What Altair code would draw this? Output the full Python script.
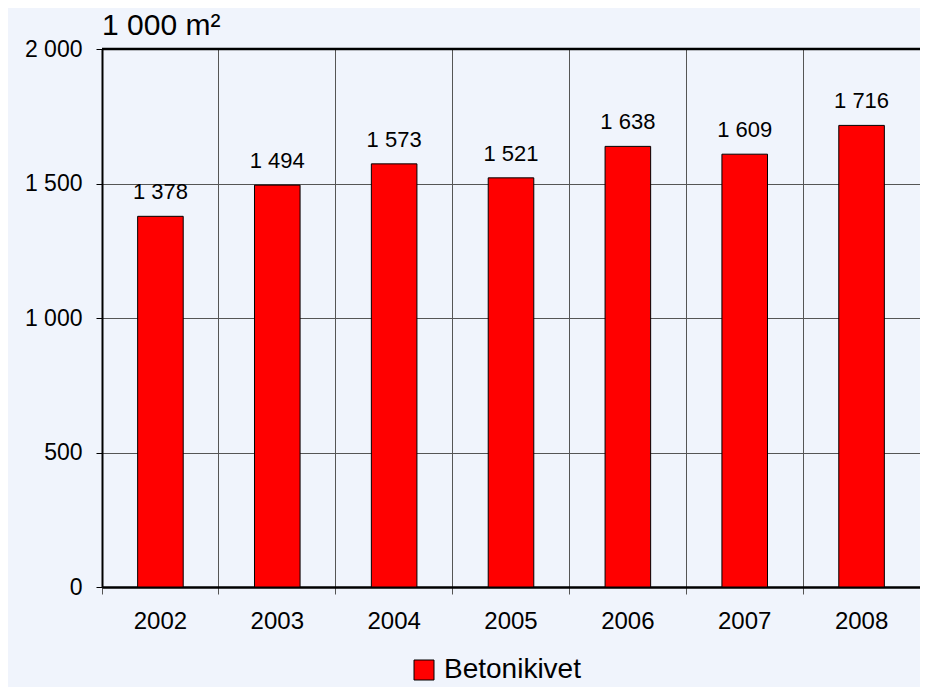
import altair as alt
import pandas as pd

years = ["2002", "2003", "2004", "2005", "2006", "2007", "2008"]
values = [1378, 1494, 1573, 1521, 1638, 1609, 1716]
series_name = "Betonikivet"
y_ticks = [0, 500, 1000, 1500, 2000]
unit_title = "1 000 m²"

df = pd.DataFrame({"year": years, "value": values, "series": [series_name] * len(years)})

FONT = "Liberation Sans"
fmt_expr = "replace(format(datum.value, ','), ',', ' ')"

x_enc = alt.X(
    "year:N",
    sort=years,
    title=None,
    scale=alt.Scale(paddingInner=0, paddingOuter=0),
    axis=alt.Axis(
        bandPosition=0,
        grid=True,
        gridColor="#555555",
        gridWidth=1,
        domainColor="black",
        domainWidth=2.5,
        ticks=True,
        tickColor="#555555",
        tickSize=7,
        tickWidth=1,
        labelFontSize=24,
        labelFont=FONT,
        labelColor="black",
        labelPadding=15,
        labelAngle=0,
    ),
)
y_enc = alt.Y(
    "value:Q",
    title=None,
    scale=alt.Scale(domain=[0, 2000], nice=False),
    axis=alt.Axis(
        values=y_ticks,
        labelExpr=fmt_expr,
        grid=True,
        gridColor="#555555",
        gridWidth=1,
        domainColor="black",
        domainWidth=2,
        tickColor="black",
        tickSize=6,
        tickWidth=1,
        labelFontSize=23,
        labelFont=FONT,
        labelColor="black",
        labelPadding=14,
    ),
)

bars = alt.Chart(df).mark_bar(
    width=alt.RelativeBandSize(0.39), stroke="black", strokeWidth=1
).encode(
    x=x_enc,
    y=y_enc,
    color=alt.Color(
        "series:N",
        scale=alt.Scale(range=["#ff0000"]),
        legend=alt.Legend(
            title=None,
            orient="none",
            legendX=308,
            legendY=607,
            padding=0,
            symbolType="square",
            symbolSize=400,
            symbolStrokeColor="black",
            symbolStrokeWidth=1,
            symbolFillColor="#ff0000",
            labelFontSize=28,
            labelFont=FONT,
            labelColor="black",
            labelOffset=6,
        ),
    ),
)

labels = alt.Chart(df).transform_calculate(
    label=fmt_expr
).mark_text(baseline="bottom", dy=-12, fontSize=22, font=FONT, color="black").encode(
    x=alt.X("year:N", sort=years),
    y=alt.Y("value:Q"),
    text="label:N",
)

top_border = alt.Chart(pd.DataFrame({"v": [2000]})).mark_rule(color="black", strokeWidth=2.5).encode(
    y=alt.Y("v:Q")
)

chart = alt.layer(bars, labels, top_border).properties(
    width=818,
    height=538,
    title=alt.TitleParams(
        text=unit_title,
        anchor="start",
        frame="group",
        fontSize=30,
        font=FONT,
        fontWeight="normal",
        color="black",
        offset=-3,
    ),
    autosize=alt.AutoSizeParams(type="none"),
    padding={"left": 94, "top": 41, "right": 0, "bottom": 100},
    background="#f0f4fc",
).configure_view(stroke=None)

chart.save("out.html", embed_options={"renderer": "svg", "actions": False})
